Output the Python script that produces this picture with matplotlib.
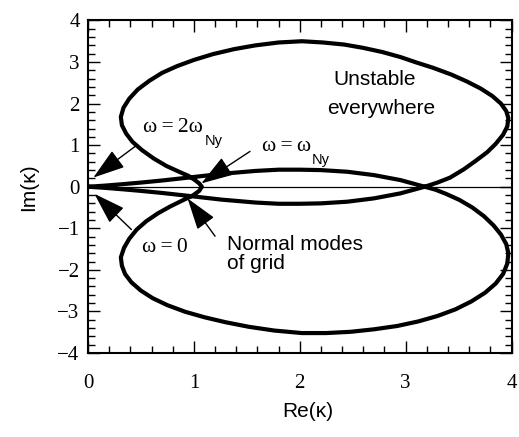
import matplotlib
matplotlib.use("Agg")
import matplotlib.pyplot as plt
from matplotlib.ticker import MultipleLocator

# Closed curve kappa(omega), omega from 0 to 2*omega_Ny.
# Segment 1: lower inner branch, origin -> crossing
lower_inner_re = [0.00, 0.15, 0.32, 0.50, 0.70, 0.95, 1.26, 1.58, 1.80, 2.00, 2.20, 2.45, 2.70, 2.95, 3.18]
lower_inner_im = [0.00, -0.025, -0.06, -0.10, -0.15, -0.22, -0.31, -0.38, -0.41, -0.41, -0.40, -0.36, -0.28, -0.16, 0.00]
# Segment 2: upper lobe, crossing -> top -> omega_Ny tip
upper_lobe_re = [3.30, 3.42, 3.55, 3.66, 3.77, 3.85, 3.92, 3.96, 3.97, 3.95, 3.90, 3.82, 3.71, 3.58, 3.43,
                 3.26, 3.10, 2.95, 2.78, 2.60, 2.42, 2.22, 2.02, 1.80, 1.58, 1.38, 1.18, 1.00, 0.84, 0.70,
                 0.58, 0.47, 0.39, 0.335, 0.31, 0.32, 0.36, 0.42, 0.51, 0.62, 0.74, 0.86, 0.95, 1.01, 1.05, 1.075]
upper_lobe_im = [0.10, 0.22, 0.42, 0.62, 0.83, 1.03, 1.25, 1.45, 1.65, 1.82, 2.00, 2.18, 2.36, 2.53, 2.70,
                 2.86, 2.99, 3.12, 3.24, 3.34, 3.42, 3.47, 3.50, 3.47, 3.40, 3.31, 3.19, 3.05, 2.90, 2.74,
                 2.55, 2.34, 2.12, 1.90, 1.68, 1.48, 1.28, 1.08, 0.88, 0.68, 0.50, 0.36, 0.26, 0.16, 0.08, 0.00]
# Segment 3: lower lobe, tip -> bottom -> crossing
lower_lobe_re = [1.05, 0.99, 0.90, 0.78, 0.66, 0.55, 0.46, 0.39, 0.34, 0.31, 0.32, 0.35, 0.41, 0.50, 0.61,
                 0.75, 0.92, 1.10, 1.30, 1.52, 1.76, 2.02, 2.25, 2.48, 2.70, 2.92, 3.12, 3.30, 3.47, 3.62,
                 3.75, 3.85, 3.92, 3.96, 3.97, 3.95, 3.90, 3.83, 3.74, 3.63, 3.51, 3.38, 3.28, 3.18]
lower_lobe_im = [-0.10, -0.21, -0.32, -0.47, -0.64, -0.83, -1.03, -1.25, -1.47, -1.70, -1.90, -2.10, -2.30, -2.50, -2.68,
                 -2.85, -3.01, -3.14, -3.26, -3.37, -3.46, -3.52, -3.52, -3.49, -3.43, -3.35, -3.24, -3.11, -2.95, -2.76,
                 -2.55, -2.33, -2.10, -1.85, -1.60, -1.38, -1.15, -0.93, -0.71, -0.50, -0.32, -0.17, -0.07, 0.00]
# Segment 4: upper inner branch, crossing -> origin
upper_inner_re = [2.95, 2.70, 2.45, 2.20, 2.00, 1.80, 1.58, 1.26, 0.95, 0.70, 0.50, 0.32, 0.15, 0.00]
upper_inner_im = [0.16, 0.28, 0.36, 0.40, 0.41, 0.41, 0.38, 0.31, 0.22, 0.15, 0.10, 0.06, 0.025, 0.00]

x_ticks = [0, 1, 2, 3, 4]
y_ticks = [-4, -3, -2, -1, 0, 1, 2, 3, 4]

re_k = lower_inner_re + upper_lobe_re + lower_lobe_re + upper_inner_re
im_k = lower_inner_im + upper_lobe_im + lower_lobe_im + upper_inner_im

fig = plt.figure(figsize=(5.19, 4.37), dpi=100)
ax = fig.add_axes([0.1696, 0.1922, 0.816, 0.761])

ax.axhline(0, color='black', lw=0.9, zorder=1)
ax.plot(re_k, im_k, color='black', lw=3.0, solid_joinstyle='round', solid_capstyle='round', zorder=2)

ax.set_xlim(0, 4)
ax.set_ylim(-4, 4)
ax.set_xticks(x_ticks)
ax.set_yticks(y_ticks)
ax.xaxis.set_minor_locator(MultipleLocator(0.2))
ax.yaxis.set_minor_locator(MultipleLocator(0.2))
ax.tick_params(which='both', direction='in', top=True, right=True, width=1.0, color='black')
ax.tick_params(which='major', length=8.5)
ax.tick_params(which='minor', length=5)
ax.tick_params(axis='x', which='major', pad=15)
ax.tick_params(axis='y', which='major', pad=6)
for s in ax.spines.values():
    s.set_linewidth(1.5)
for lab in ax.get_xticklabels() + ax.get_yticklabels():
    lab.set_family('Liberation Serif')
    lab.set_fontsize(15)

ax.set_xlabel('Re(κ)', family='Liberation Sans', fontsize=15)
ax.set_ylabel('Im(κ)', family='Liberation Sans', fontsize=15)
ax.xaxis.set_label_coords(0.52, -0.147)
ax.yaxis.set_label_coords(-0.118, 0.5)

ax.text(2.71, 2.57, 'Unstable', family='Liberation Sans', fontsize=15, ha='center', va='center')
ax.text(2.77, 1.89, 'everywhere', family='Liberation Sans', fontsize=15, ha='center', va='center')
ax.text(1.31, -1.39, 'Normal modes', family='Liberation Sans', fontsize=15, ha='left', va='center')
ax.text(1.31, -1.85, 'of grid', family='Liberation Sans', fontsize=15, ha='left', va='center')

astyle = dict(arrowstyle='-|>,head_length=2.0,head_width=0.65', color='black', lw=1.0,
              mutation_scale=10, shrinkA=0, shrinkB=0)
ax.annotate('', xy=(0.05, 0.22), xytext=(0.445, 0.97), arrowprops=astyle)
ax.annotate('', xy=(1.07, 0.08), xytext=(1.53, 0.85), arrowprops=astyle)
ax.annotate('', xy=(0.06, -0.17), xytext=(0.41, -1.03), arrowprops=astyle)
ax.annotate('', xy=(0.94, -0.28), xytext=(1.20, -1.19), arrowprops=astyle)

ts = '\u2009'
t1 = ax.text(0.52, 1.42, f'ω{ts}={ts}2ω', family='Liberation Serif', fontsize=15.5, ha='left', va='center')
ax.annotate('Ny', xy=(1, 0), xycoords=t1, xytext=(1, 2), textcoords='offset points',
            family='Liberation Sans', fontsize=10.5, ha='left', va='top')
t2 = ax.text(1.64, 0.97, f'ω{ts}={ts}ω', family='Liberation Serif', fontsize=15.5, ha='left', va='center')
ax.annotate('Ny', xy=(1, 0), xycoords=t2, xytext=(1, 2), textcoords='offset points',
            family='Liberation Sans', fontsize=10.5, ha='left', va='top')
ax.text(0.51, -1.46, f'ω{ts}={ts}0', family='Liberation Serif', fontsize=15.5, ha='left', va='center')

fig.savefig('out.png', dpi=100)
